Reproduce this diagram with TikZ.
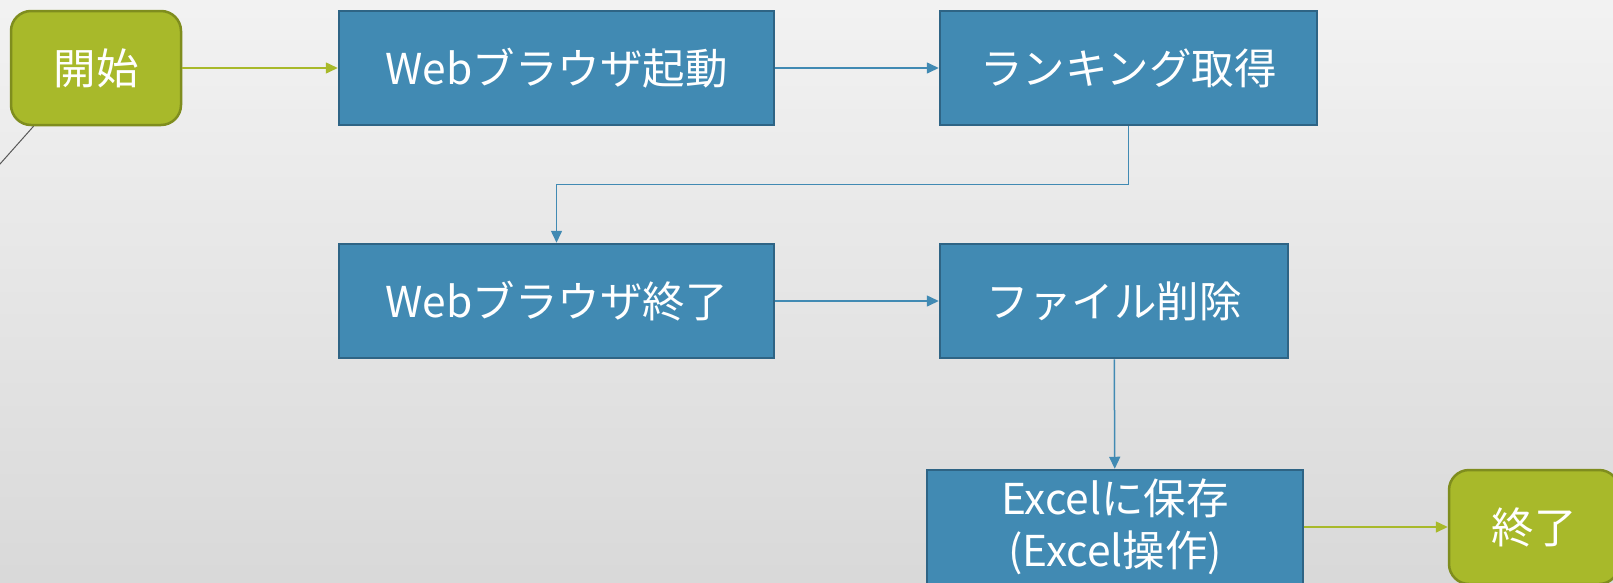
\documentclass[tikz,border=0pt]{standalone}
\usepackage{fontspec}
\setmainfont{Noto Sans CJK JP}
\usetikzlibrary{arrows.meta,calc}
\definecolor{stepblue}{HTML}{418AB3}
\definecolor{stepedge}{HTML}{2E6485}
\definecolor{endgreen}{HTML}{A8B92A}
\definecolor{endedge}{HTML}{7F8D1E}
\def\hei{114pt}

\begin{document}
\begin{tikzpicture}[x=1pt,y=-1pt,>={Triangle[length=12pt,width=11pt]}]
\tikzset{
  stepbox/.style={draw=stepedge,fill=stepblue,line width=2.5pt,minimum height=\hei,
    text=white,font=\fontsize{42.5}{52}\selectfont,align=center,inner sep=0pt},
  termbox/.style={stepbox,draw=endedge,fill=endgreen,rounded corners=20pt},
  blueline/.style={->,draw=stepblue,line width=1.5pt},
  greenline/.style={->,draw=endgreen,line width=1.5pt},
}
\fill[top color=black!5,bottom color=black!15] (0,0) rectangle (1613,582);
\useasboundingbox (0,0) rectangle (1613,582);
\node[termbox,minimum width=170pt] (start) at (96,68) {開始};
\node[stepbox,minimum width=435pt] (brwopen) at (556.5,68) {Webブラウザ起動};
\node[stepbox,minimum width=377pt] (rank) at (1128.5,68) {ランキング取得};
\node[stepbox,minimum width=435pt] (brwclose) at (556.5,301) {Webブラウザ終了};
\node[stepbox,minimum width=348pt] (delfile) at (1114,301) {ファイル削除};
\node[stepbox,minimum width=376pt] (excel) at (1115,527) {Excelに保存\\(Excel操作)};
\node[termbox,minimum width=170pt] (finish) at (1534,527) {終了};
\coordinate (tail) at (-8,173);
\draw[greenline] (start) -- (brwopen);
\draw[blueline] (brwopen) -- (rank);
\draw[blueline] (rank.south) |- ($(rank.south)!0.5!(brwclose.north)$) -| (brwclose.north);
\draw[blueline] (brwclose) -- (delfile);
\draw[blueline] (delfile) -- (excel);
\draw[greenline] (excel) -- (finish);
\draw[black!65,line width=1pt] (start.223) -- (tail);
\end{tikzpicture}
\end{document}
